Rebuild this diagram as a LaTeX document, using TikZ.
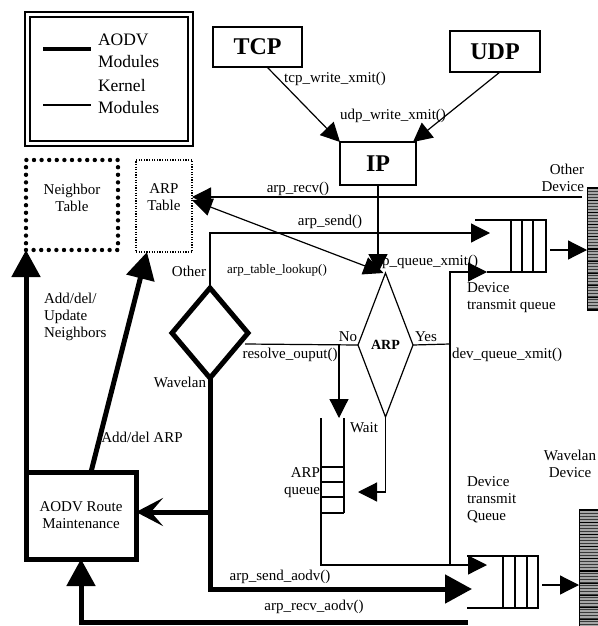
\documentclass[tikz,border=0pt]{standalone}
\usepackage{fontspec}
\setmainfont{Liberation Serif}
\usetikzlibrary{arrows.meta,shapes.geometric,calc}
\begin{document}
\begin{tikzpicture}[x=1pt,y=-1pt,
  thn/.style={line width=1.2pt},
  thk/.style={line width=5pt},
  tri/.style={-{Triangle[length=19pt,width=19pt]}},
  btri/.style={-{Triangle[length=27pt,width=28pt]}},
  bstl/.style={-{Stealth[length=27pt,width=28pt,inset=12pt]}},
  lbl/.style={font=\fontsize{15}{17}\selectfont, inner sep=0pt, outer sep=0pt, align=center},
  slbl/.style={font=\fontsize{13}{15}\selectfont, inner sep=0pt, outer sep=0pt},
  leg/.style={font=\fontsize{17.5}{22}\selectfont, inner sep=0pt, outer sep=0pt, align=left},
  pbox/.style={draw, line width=1.5pt, inner sep=0pt, outer sep=0pt, font=\bfseries\fontsize{24}{28}\selectfont},
  stripe/.style={gray!45!black, line width=0.8pt},
  sep/.style={black, line width=1.1pt},
]
\useasboundingbox (0,0) rectangle (597,626);

% legend
\node[draw, double, line width=1.6pt, double distance=3.4pt, minimum width=163pt, minimum height=129pt, inner sep=0pt, outer sep=0pt] (legend) at (109,79) {};
\coordinate (la1) at (43,49); \coordinate (la2) at (91,49);
\coordinate (lb1) at (43,105); \coordinate (lb2) at (91,105);
\draw[line width=4.5pt] (la1) -- (la2);
\draw[thn] (lb1) -- (lb2);
\node[leg, anchor=west] (legA) at (98,51) {AODV\\Modules};
\node[leg, anchor=west] (legK) at (98,97) {Kernel\\Modules};

% protocol boxes
\node[pbox, minimum width=89pt, minimum height=40pt] (tcp) at (257.5,47) {TCP};
\node[pbox, minimum width=90pt, minimum height=41pt] (udp) at (495,51.5) {UDP};
\node[pbox, minimum width=76pt, minimum height=43pt] (ip) at (378,163.5) {IP};
\draw[thn, tri] ([xshift=9.5pt]tcp.south) -- (ip.north west);
\draw[thn, tri] ([xshift=5pt]udp.south) -- ([xshift=-3pt]ip.north east);
\node[lbl] (ltcp) at (335,79) {tcp\_write\_xmit()};
\node[lbl] (ludp) at (393,116) {udp\_write\_xmit()};

% tables
\node[draw, line width=4.4pt, dash pattern=on 0pt off 7.6pt, line cap=round, minimum width=92pt, minimum height=90pt, inner sep=0pt, outer sep=0pt] (nt) at (72,205) {};
\node[lbl] (ntl) at (72,198) {Neighbor\\Table};
\node[draw, line width=1.2pt, dash pattern=on 1.2pt off 1.4pt, minimum width=56pt, minimum height=92pt, inner sep=0pt, outer sep=0pt] (arptab) at (164,206) {};
\node[lbl] (arptabl) at (164,197) {ARP\\Table};

% AODV route maintenance
\node[draw, thk, minimum width=110pt, minimum height=87pt, lbl] (aodv) at (81,515.5) {AODV Route\\Maintenance};

% diamonds
\node[diamond, draw, thk, minimum width=76pt, minimum height=90pt, inner sep=0pt, outer sep=0pt] (wd) at (210,333) {};
\node[diamond, draw, thn, minimum width=55pt, minimum height=144pt, inner sep=0pt, outer sep=0pt, font=\bfseries\fontsize{14}{16}\selectfont] (arp) at (385.5,345) {ARP};

% devices
\fill[gray!70] (587,188) rectangle (602,310);
\foreach \k in {0,...,40} \draw[stripe] (587,{188+3*\k}) -- (602,{188+3*\k});
\foreach \k in {0,...,10} \draw[sep] (587,{188+12.2*\k}) -- (602,{188+12.2*\k});
\draw[line width=1pt] (587,188) rectangle (602,310);
\fill[gray!70] (579,510) rectangle (602,630);
\foreach \k in {0,...,40} \draw[stripe] (579,{510+3*\k}) -- (602,{510+3*\k});
\foreach \k in {0,...,10} \draw[sep] (579,{510+12.2*\k}) -- (602,{510+12.2*\k});
\draw[line width=1pt] (579,510) rectangle (602,630);
\coordinate (dev1w) at (587,250);
\coordinate (dev2w) at (579,585);
\node[lbl, align=right, anchor=east] (odev) at (584,178) {Other\\Device};
\node[lbl] (wdev) at (570,464) {Wavelan\\Device};

% transmit queues
\draw[thn] (475,220) -- (546,220) -- (546,272) -- (487,272);
\foreach \x in {511,522,533} \draw[thn] (\x,220) -- (\x,272);
\draw[thn] (467,556) -- (538,556) -- (538,608) -- (467,608);
\foreach \x in {503,515,527} \draw[thn] (\x,556) -- (\x,608);
\coordinate (q1a) at (490,233);
\coordinate (q1b) at (487,272);
\coordinate (q1o) at (550,250);
\coordinate (q2a) at (487,565);
\coordinate (q2b) at (472,589);
\coordinate (q2o) at (542,585);
\draw[thn, tri] (q1o) -- (dev1w);
\draw[thn, tri] (q2o) -- (dev2w);
\node[lbl, align=left, anchor=west] (tq1) at (467,298) {Device\\transmit queue};
\node[lbl, align=left, anchor=west] (tq2) at (467,500) {Device\\transmit\\Queue};

% ARP queue
\coordinate (aq1) at (321,418);
\coordinate (aq2) at (344,418);
\draw[thn] (aq2) -- (344,513);
\foreach \y in {467,482,497,513} \draw[thn] (321,\y) -- (344,\y);
\node[lbl, align=right, anchor=east] (aql) at (320,483) {ARP\\queue};

% kernel connectors
\coordinate (rx) at (582,197);
\draw[thn, tri] (rx) -- (rx -| arptab.east);
\node[lbl] (lrecv) at (298,189) {arp\_recv()};
\draw[thn, {Triangle[length=20pt,width=18pt]}-{Triangle[length=20pt,width=18pt]}] ([yshift=6pt]arptab.east) -- ([xshift=-2pt]arp.north);
\node[slbl] (llook) at (277,270) {arp\_table\_lookup()};
\draw[thn, tri] (ip.south) -- (ip.south |- arp.north);
\node[lbl] (lipq) at (428,262) {ip\_queue\_xmit()};
\draw[thn, tri] (wd.north) |- (q1a);
\node[lbl] (lsend) at (330,222) {arp\_send()};
\node[lbl] (lother) at (189,271) {Other};
\node[lbl] (lwave) at (180,382) {Wavelan};
\coordinate (wdr) at (245,344);
\coordinate (rs) at (339,344);
\draw[thn] (wdr) -- (arp.west);
\draw[thn, tri] (rs) -- (339,418);
\node[lbl] (lres) at (290,355) {resolve\_ouput()};
\node[lbl] (lno) at (348,337) {No};
\node[lbl] (lyes) at (426,337) {Yes};
\coordinate (j1) at (450,344);
\draw[thn] (arp.east) -- (j1);
\draw[thn, tri] (j1) |- (q1b);
\draw[thn, tri] (j1) |- (q2a);
\draw[thn] (aq1) -- (321,565) -- (450,565);
\node[lbl] (ldev) at (507,355) {dev\_queue\_xmit()};
\coordinate (wt) at (358,492);
\draw[thn, tri] (arp.south) |- (wt);
\node[lbl] (lwait) at (364,428) {Wait};

% AODV connectors
\draw[thk, btri] (wd.south) |- (q2b);
\node[lbl] (lsa) at (280,577) {arp\_send\_aodv()};
\coordinate (j2) at (210,512);
\draw[thk, bstl] (j2) -- (j2 -| aodv.east);
\coordinate (ra) at (468,622);
\draw[thk, btri] (ra) -| (aodv.south);
\node[lbl] (lra) at (314,607) {arp\_recv\_aodv()};
\draw[thk, btri] (aodv.north west) -- (nt.south west);
\node[lbl, align=left, anchor=west] (lnb) at (44,317) {Add/del/\\Update\\Neighbors};
\draw[thk, btri] ([xshift=10pt]aodv.north) -- ([xshift=11pt]arptab.south west);
\node[lbl] (larp) at (142,437) {Add/del ARP};
\end{tikzpicture}
\end{document}
